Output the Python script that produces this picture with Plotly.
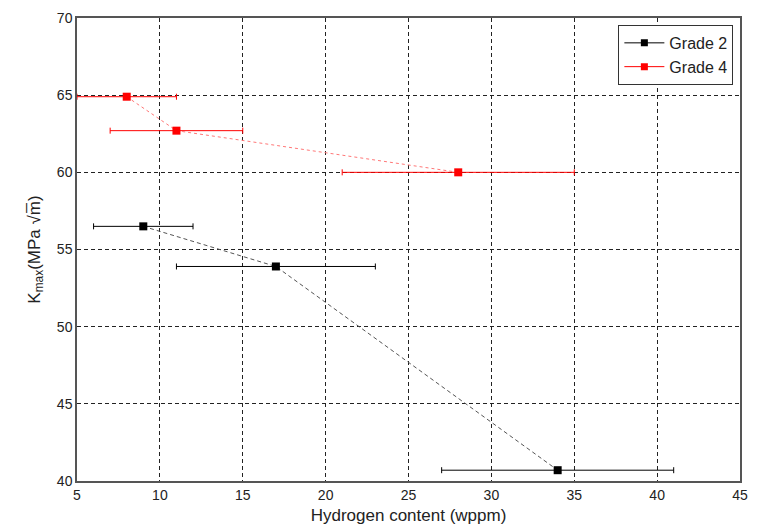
import plotly.graph_objects as go

grade2_h = [9, 17, 34]
grade2_k = [56.5, 53.9, 40.7]
grade2_err = [3, 6, 7]

grade4_h = [8, 11, 28]
grade4_k = [64.9, 62.7, 60.0]
grade4_err = [3, 4, 7]

x_ticks = [5, 10, 15, 20, 25, 30, 35, 40, 45]
y_ticks = [40, 45, 50, 55, 60, 65, 70]

fig = go.Figure()

fig.add_trace(go.Scatter(
    x=grade2_h, y=grade2_k, mode="lines+markers", showlegend=False,
    line=dict(color="#555555", width=1, dash="4px,3px"),
    marker=dict(symbol="square", size=8, color="black"),
    error_x=dict(type="data", array=grade2_err, color="black", thickness=1, width=3),
))
fig.add_trace(go.Scatter(
    x=grade4_h, y=grade4_k, mode="lines+markers", showlegend=False,
    line=dict(color="#ff7777", width=1, dash="dot"),
    marker=dict(symbol="square", size=8, color="red"),
    error_x=dict(type="data", array=grade4_err, color="red", thickness=1, width=3),
))
# legend entries
fig.add_trace(go.Scatter(
    x=[None], y=[None], mode="lines+markers", name="Grade 2",
    line=dict(color="black", width=1),
    marker=dict(symbol="square", size=7, color="black"),
))
fig.add_trace(go.Scatter(
    x=[None], y=[None], mode="lines+markers", name="Grade 4",
    line=dict(color="red", width=1),
    marker=dict(symbol="square", size=7, color="red"),
))

axis_common = dict(
    showline=True, linecolor="#555555", linewidth=1.5, mirror=True,
    showgrid=True, gridcolor="#222222", griddash="4px,3px", gridwidth=1,
    zeroline=False, ticks="", tickfont=dict(size=14, color="#222222"),
)

fig.update_layout(
    width=758, height=532,
    margin=dict(l=77, r=10, t=15, b=50),
    paper_bgcolor="white", plot_bgcolor="white",
    font=dict(family="Liberation Sans, Arial, sans-serif", color="#222222"),
    xaxis=dict(range=[5, 45], tickvals=x_ticks,
               title=dict(text="Hydrogen content (wppm)", font=dict(size=17), standoff=8),
               **axis_common),
    yaxis=dict(range=[40, 70], tickvals=y_ticks,
               title=dict(text="K<sub>max</sub>(MPa √m̅)", font=dict(size=17), standoff=12),
               **axis_common),
    legend=dict(x=0.99, y=0.985, xanchor="right", yanchor="top",
                bordercolor="#333333", borderwidth=1, bgcolor="white",
                font=dict(size=16), itemwidth=40, traceorder="normal"),
)

fig.write_html("out.html")
